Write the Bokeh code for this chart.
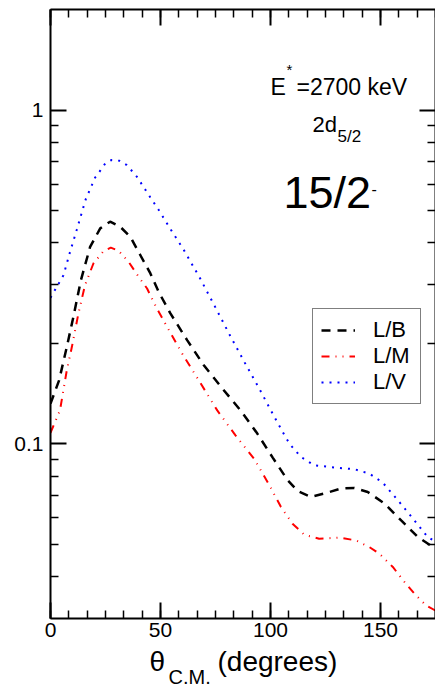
from bokeh.plotting import figure
from bokeh.layouts import column
from bokeh.models import (Range1d, FixedTicker, LinearAxis, LogAxis, Label, Legend,
                          LegendItem, CustomJSTickFormatter)
from bokeh.embed import file_html
from bokeh.resources import INLINE

FONT = "Liberation Sans"

# ---- data ----
theta_b = [0, 3.9, 7.4, 10.4, 13.8, 18.0, 22.6, 27.1, 31.7, 36.3, 40.8, 45.4, 49.2, 54.5,
           62.1, 69.7, 78.1, 86.4, 94.0, 101.0, 107.7, 112.3, 118.3, 124.4, 132.0, 138.1,
           144.2, 151.8, 159.4, 167.0, 175.3]
val_b = [0.132, 0.155, 0.195, 0.240, 0.309, 0.389, 0.442, 0.463, 0.447, 0.417, 0.368, 0.324,
         0.285, 0.246, 0.2046, 0.172, 0.1466, 0.126, 0.1074, 0.091, 0.078, 0.0723, 0.0694,
         0.071, 0.0735, 0.0738, 0.0718, 0.0663, 0.059, 0.0526, 0.0484]

theta_m = [0, 4.3, 7.4, 9.7, 12.7, 15.7, 19.5, 24.1, 27.4, 30.9, 35.5, 40.0, 43.9, 48.4,
           52.2, 59.8, 67.4, 75.8, 84.1, 92.5, 99.7, 104.7, 110.0, 115.3, 122.1, 131.2,
           138.9, 144.9, 149.5, 155.6, 160.9, 165.4, 170.8, 175.3]
val_m = [0.108, 0.126, 0.166, 0.195, 0.246, 0.299, 0.347, 0.378, 0.387, 0.379, 0.351, 0.317,
         0.292, 0.254, 0.229, 0.1866, 0.155, 0.126, 0.106, 0.0904, 0.0748, 0.0648, 0.0577,
         0.0535, 0.052, 0.0524, 0.0514, 0.0491, 0.0469, 0.0428, 0.0386, 0.0356, 0.0328,
         0.0316]

theta_v = [0, 5.9, 8.9, 11.9, 16.0, 20.3, 22.6, 24.9, 27.6, 31.2, 34.7, 39.3, 45.4, 49.2,
           54.8, 60.6, 67.9, 74.6, 81.3, 88.1, 95.1, 101.9, 107.2, 109.2, 113.8, 119.8,
           130.5, 138.1, 144.9, 151.0, 157.9, 164.7, 171.5, 175.3]
val_v = [0.274, 0.320, 0.376, 0.437, 0.540, 0.628, 0.658, 0.692, 0.708, 0.705, 0.684, 0.631,
         0.547, 0.502, 0.437, 0.381, 0.314, 0.259, 0.213, 0.176, 0.1455, 0.120, 0.1038,
         0.0991, 0.0915, 0.0863, 0.0848, 0.0840, 0.0815, 0.0766, 0.0678, 0.0598, 0.0526,
         0.0508]

series_labels = ["L/B", "L/M", "L/V"]
x_major = [0, 50, 100, 150]
x_minor = [k * 50 / 6 for k in range(22)]
y_major = [0.1, 1]
y_minor = [0.04, 0.05, 0.06, 0.07, 0.08, 0.09, 0.2, 0.3, 0.4, 0.5, 0.6, 0.7, 0.8, 0.9]

p = figure(width=435, height=646, output_backend="svg", toolbar_location=None,
           x_range=Range1d(0, 175), y_range=Range1d(0.03, 2), y_axis_type="log",
           x_axis_location=None, y_axis_location=None,
           min_border_left=50, min_border_right=0, min_border_top=9, min_border_bottom=28)
p.outline_line_color = None
for g in p.grid:
    g.visible = False
p.background_fill_color = "white"
p.border_fill_color = "white"


def style(ax, show_labels):
    ax.axis_line_width = 2
    ax.axis_line_color = "black"
    ax.major_tick_in = 16
    ax.major_tick_out = 0
    ax.minor_tick_in = 8
    ax.minor_tick_out = 0
    ax.major_tick_line_width = 2
    ax.minor_tick_line_width = 1.5
    ax.major_tick_line_color = "black"
    ax.minor_tick_line_color = "black"
    if show_labels:
        ax.major_label_text_font = FONT
        ax.major_label_text_font_size = "21px"
        ax.major_label_text_color = "black"
    else:
        ax.formatter = CustomJSTickFormatter(code="return '';")
        ax.major_label_text_font_size = "6px"
        ax.major_label_text_color = None
        ax.major_label_standoff = 0


xt = FixedTicker(ticks=x_major, minor_ticks=x_minor)
yt = FixedTicker(ticks=y_major, minor_ticks=y_minor)

bottom = LinearAxis(ticker=xt, major_label_standoff=4)
style(bottom, True)
p.add_layout(bottom, "below")
top = LinearAxis(ticker=xt)
style(top, False)
p.add_layout(top, "above")
left = LogAxis(ticker=yt, major_label_standoff=7,
               formatter=CustomJSTickFormatter(code="return tick.toString();"))
style(left, True)
p.add_layout(left, "left")
right = LogAxis(ticker=yt)
style(right, False)
p.add_layout(right, "right")

r_b = p.line(theta_b, val_b, line_color="black", line_width=2.5, line_dash="9 7")
r_m = p.line(theta_m, val_m, line_color="red", line_width=2, line_dash="8 6 1 6 1 6")
r_v = p.line(theta_v, val_v, line_color="blue", line_width=2, line_dash="2 6")

legend = Legend(items=[LegendItem(label=series_labels[0], renderers=[r_b]),
                       LegendItem(label=series_labels[1], renderers=[r_m]),
                       LegendItem(label=series_labels[2], renderers=[r_v])],
                location=(262, 214), border_line_color="black", border_line_width=1.5,
                background_fill_color="white", background_fill_alpha=1,
                padding=8, spacing=0, label_standoff=18, glyph_width=34, glyph_height=24,
                label_height=24, label_width=39, margin=0, label_text_font=FONT,
                label_text_font_size="22px", label_text_color="black")
p.add_layout(legend)


def lab(fig, x, y, text, size):
    fig.add_layout(Label(x=x, y=y, x_units="screen", y_units="screen", text=text,
                         text_font=FONT, text_font_size=size, text_color="black",
                         text_baseline="alphabetic", text_align="left"))


# frame-relative screen coords: x from frame left (50), y up from frame bottom (618)
lab(p, 220, 532, "E", "23px")
lab(p, 236, 549, "*", "15px")
lab(p, 246, 532, "=2700 keV", "23px")
lab(p, 262, 494, "2d", "22px")
lab(p, 287, 482, "5/2", "17px")
lab(p, 233, 426, "15/2", "45px")
lab(p, 321, 430, "-", "16px")

# x-axis title strip (own small figure so the title is not clipped);
# its frame is aligned with the main frame (left edge at x = 50)
p2 = figure(width=435, height=43, output_backend="svg", toolbar_location=None,
            x_range=Range1d(0, 1), y_range=Range1d(0, 1),
            x_axis_location=None, y_axis_location=None, min_border=0)
p2.outline_line_color = None
for g in p2.grid:
    g.visible = False
p2.background_fill_color = "white"
p2.border_fill_color = "white"
lab(p2, 99, 28, "θ", "28px")
lab(p2, 118, 12.5, "C.M.", "20px")
lab(p2, 167, 28, "(degrees)", "28px")

layout = column(p, p2, spacing=0)
open("out.html", "w").write(file_html(layout, INLINE))
